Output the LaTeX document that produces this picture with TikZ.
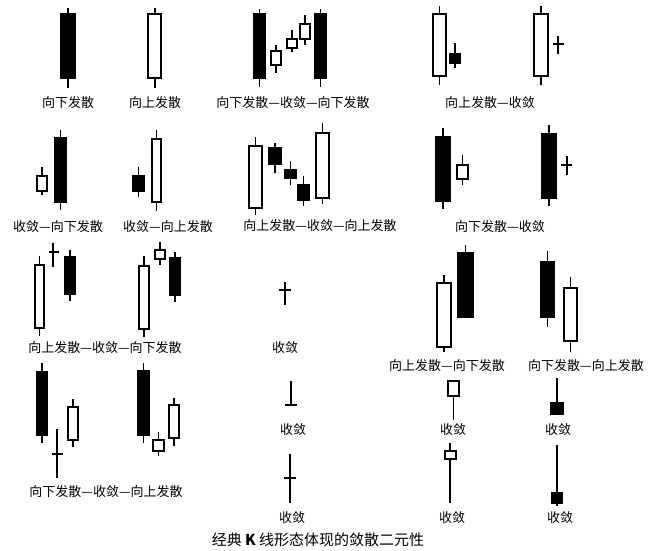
\documentclass[tikz,border=0pt]{standalone}
\usepackage{fontspec}
\usepackage{tikz}
\newfontfamily\cjk{Noto Sans CJK SC}

\begin{document}
\begin{tikzpicture}[x=1pt, y=-1pt,
  wick/.style={line width=1.3pt},
  bull/.style={draw, line width=1.3pt, fill=white},
  bear/.style={draw, line width=1.3pt, fill=black},
  lbl/.style={font=\cjk\fontsize{13}{13}\selectfont, inner sep=0pt}]
\fill[white] (0,0) rectangle (655,550);
\useasboundingbox (0,0) rectangle (655,550);
% row 1
  \draw[wick] (68,8) -- (68,88);
  \draw[bear] (61,14) rectangle (75,78);
  \draw[wick] (155,8) -- (155,88);
  \draw[bull] (148,14) rectangle (161,78);
  \draw[wick] (259.5,9) -- (259.5,87);
  \draw[bear] (254,14) rectangle (265,78);
  \draw[wick] (276,45) -- (276,73);
  \draw[bull] (271,51) rectangle (281,65);
  \draw[wick] (292,30) -- (292,52);
  \draw[bull] (287,39) rectangle (297,48);
  \draw[wick] (305,15) -- (305,45);
  \draw[bull] (300,24) rectangle (310,39);
  \draw[wick] (320.5,9) -- (320.5,87);
  \draw[bear] (315,14) rectangle (326,78);
  \draw[wick] (439.5,6) -- (439.5,85);
  \draw[bull] (433,14) rectangle (446,76);
  \draw[wick] (455,43) -- (455,68);
  \draw[bear] (450,54) rectangle (460,63);
  \draw[wick] (541,6) -- (541,85);
  \draw[bull] (534,14) rectangle (548,76);
  \draw[wick] (558,36) -- (558,54) (553,44) -- (564,44);
\node[lbl] (l1) at (68,103) {向下发散};
\node[lbl] (l2) at (155,103) {向上发散};
\node[lbl] (l3) at (293,103) {向下发散—收敛—向下发散};
\node[lbl] (l4) at (490,103) {向上发散—收敛};
% row 2
  \draw[wick] (42,167) -- (42,195);
  \draw[bull] (37,176) rectangle (47,191);
  \draw[wick] (60.5,130) -- (60.5,210);
  \draw[bear] (55,138) rectangle (66,202);
  \draw[wick] (138.5,167) -- (138.5,197);
  \draw[bear] (133,176) rectangle (144,191);
  \draw[wick] (156.5,130) -- (156.5,211);
  \draw[bull] (152,139) rectangle (161,202);
  \draw[wick] (255.5,137) -- (255.5,215);
  \draw[bull] (249,146) rectangle (262,208);
  \draw[wick] (275,143) -- (275,173);
  \draw[bear] (269,148) rectangle (281,164);
  \draw[wick] (290.5,161) -- (290.5,185);
  \draw[bear] (285,170) rectangle (296,178);
  \draw[wick] (303.5,176) -- (303.5,206);
  \draw[bear] (298,185) rectangle (309,200);
  \draw[wick] (322.5,123) -- (322.5,204);
  \draw[bull] (316,133) rectangle (329,198);
  \draw[wick] (443,128) -- (443,209);
  \draw[bear] (436,137) rectangle (450,201);
  \draw[wick] (462.5,155) -- (462.5,185);
  \draw[bull] (457,165) rectangle (468,179);
  \draw[wick] (549,125) -- (549,206);
  \draw[bear] (542,134) rectangle (556,198);
  \draw[wick] (567,156) -- (567,175) (561,165) -- (572,165);
\node[lbl] (l5) at (58,227) {收敛—向下发散};
\node[lbl] (l6) at (168,227) {收敛—向上发散};
\node[lbl] (l7) at (320,226) {向上发散—收敛—向上发散};
\node[lbl] (l8) at (500,227) {向下发散—收敛};
% row 3
  \draw[wick] (39.5,256) -- (39.5,336);
  \draw[bull] (35,265) rectangle (44,328);
  \draw[wick] (53,243) -- (53,267) (49,252) -- (59,252);
  \draw[wick] (70,250) -- (70,301);
  \draw[bear] (65,257) rectangle (75,294);
  \draw[wick] (144,256) -- (144,337);
  \draw[bull] (139,266) rectangle (149,329);
  \draw[wick] (160,242) -- (160,265);
  \draw[bull] (155,250) rectangle (165,259);
  \draw[wick] (175,252) -- (175,302);
  \draw[bear] (170,258) rectangle (180,295);
  \draw[wick] (285,282) -- (285,305) (279,290) -- (291,290);
  \draw[wick] (444,275) -- (444,352);
  \draw[bull] (437,283) rectangle (451,347);
  \draw[wick] (465.5,245) -- (465.5,317);
  \draw[bear] (458,253) rectangle (473,317);
  \draw[wick] (547.5,251) -- (547.5,327);
  \draw[bear] (541,262) rectangle (554,317);
  \draw[wick] (570.5,277) -- (570.5,352);
  \draw[bull] (564,288) rectangle (577,341);
\node[lbl] (l9) at (105,348) {向上发散—收敛—向下发散};
\node[lbl] (l10) at (285,348) {收敛};
\node[lbl] (l11) at (447,366) {向上发散—向下发散};
\node[lbl] (l12) at (586,366) {向下发散—向上发散};
% row 4
  \draw[wick] (42,363) -- (42,443);
  \draw[bear] (37,372) rectangle (47,435);
  \draw[wick] (57,429) -- (57,478) (52,454) -- (63,454);
  \draw[wick] (73,399) -- (73,447);
  \draw[bull] (68,407) rectangle (78,440);
  \draw[wick] (143.5,363) -- (143.5,443);
  \draw[bear] (138,371) rectangle (149,435);
  \draw[wick] (158.5,432) -- (158.5,456);
  \draw[bull] (153,440) rectangle (164,451);
  \draw[wick] (174,398) -- (174,446);
  \draw[bull] (169,405) rectangle (179,438);
  \draw[wick] (291,381) -- (291,405) (285,405) -- (297,405);
  \draw[wick] (453.5,381) -- (453.5,420);
  \draw[bull] (448,381) rectangle (459,396);
  \draw[wick] (557,378) -- (557,414);
  \draw[bear] (551,403) rectangle (563,414);
\node[lbl] (l13) at (106,492) {向下发散—收敛—向上发散};
\node[lbl] (l14) at (293,430) {收敛};
\node[lbl] (l15) at (453,430) {收敛};
\node[lbl] (l16) at (558,430) {收敛};
% row 5
  \draw[wick] (290,454) -- (290,503) (284,478) -- (296,478);
  \draw[wick] (450,443) -- (450,503);
  \draw[bull] (445,451) rectangle (456,459);
  \draw[wick] (557,445) -- (557,506);
  \draw[bear] (552,493) rectangle (562,503);
\node[lbl] (l17) at (292,518) {收敛};
\node[lbl] (l18) at (452,518) {收敛};
\node[lbl] (l19) at (560,518) {收敛};
\node[lbl, font=\cjk\fontsize{15}{15}\selectfont] (title) at (318,540) {经典 {\bfseries K} 线形态体现的敛散二元性};
\end{tikzpicture}
\end{document}
